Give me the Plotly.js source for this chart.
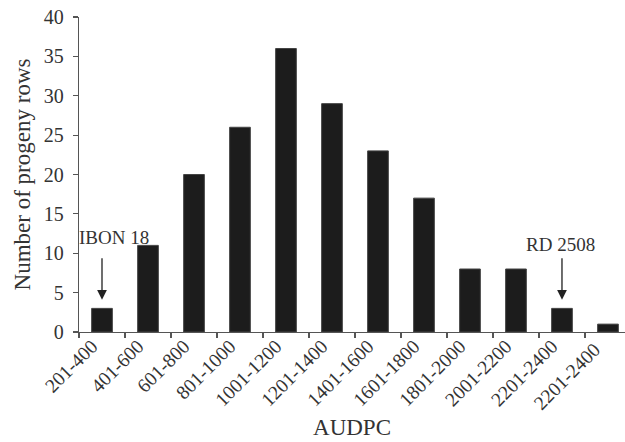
<!DOCTYPE html>
<html>
<head>
<meta charset="utf-8">
<script src="https://cdn.plot.ly/plotly-3.0.1.min.js"></script>
<style>html,body{margin:0;padding:0;background:#fff;}#chart{width:625px;height:442px;}</style>
</head>
<body>
<div id="chart"></div>
<script>
const categories = ["201-400","401-600","601-800","801-1000","1001-1200","1201-1400","1401-1600","1601-1800","1801-2000","2001-2200","2201-2400","2201-2400 "];
const counts = [3, 11, 20, 26, 36, 29, 23, 17, 8, 8, 3, 1];
const yTicks = [0, 5, 10, 15, 20, 25, 30, 35, 40];
const markerLabels = ["IBON 18", "RD 2508"];
const markerCategories = ["201-400", "2201-2400"];
const markerValues = [3, 3];

const font = {family: "Liberation Serif, Times New Roman, serif", color: "#333"};

const trace = {
  type: "bar",
  x: categories,
  y: counts,
  width: 0.45,
  marker: {color: "#1c1c1c", line: {color: "#444", width: 1}},
  hoverinfo: "skip"
};

const textShiftX = [12, -1];
const textLift = [9.05, 8.05];
const annotations = [];
markerLabels.forEach((label, i) => {
  annotations.push({
    x: markerCategories[i], y: markerValues[i] + 1.1,
    xref: "x", yref: "y",
    text: "",
    showarrow: true,
    arrowhead: 2, arrowsize: 1.5, arrowwidth: 1.3, arrowcolor: "#222",
    ax: 0, ay: -43
  });
  annotations.push({
    x: markerCategories[i], y: markerValues[i] + textLift[i],
    xref: "x", yref: "y",
    xshift: textShiftX[i],
    text: label,
    showarrow: false,
    font: Object.assign({size: 19}, font)
  });
});

const layout = {
  width: 625, height: 442,
  margin: {l: 79, r: 0, t: 17, b: 110},
  paper_bgcolor: "#fff", plot_bgcolor: "#fff",
  showlegend: false,
  font: font,
  xaxis: {
    type: "category",
    range: [-0.5, 11.37],
    tickson: "boundaries",
    ticks: "outside", ticklen: 5, tickwidth: 1.2, tickcolor: "#555",
    ticklabelshift: -10,
    ticklabelstandoff: -6,
    showline: true, linecolor: "#555", linewidth: 1.2,
    showgrid: false, zeroline: false,
    tickangle: -45,
    tickfont: Object.assign({size: 19.5}, font),
    title: {text: "AUDPC", font: Object.assign({size: 23}, font), standoff: 6}
  },
  yaxis: {
    range: [0, 40],
    tickvals: yTicks,
    ticks: "outside", ticklen: 5, tickwidth: 1.2, tickcolor: "#555",
    ticklabelstandoff: 5,
    showline: true, linecolor: "#555", linewidth: 1.2,
    showgrid: false, zeroline: false,
    tickfont: Object.assign({size: 20}, font),
    title: {text: "Number of progeny rows", font: Object.assign({size: 23}, font), standoff: 6}
  },
  annotations: annotations
};

Plotly.newPlot("chart", [trace], layout, {displayModeBar: false, staticPlot: true});
</script>
</body>
</html>
